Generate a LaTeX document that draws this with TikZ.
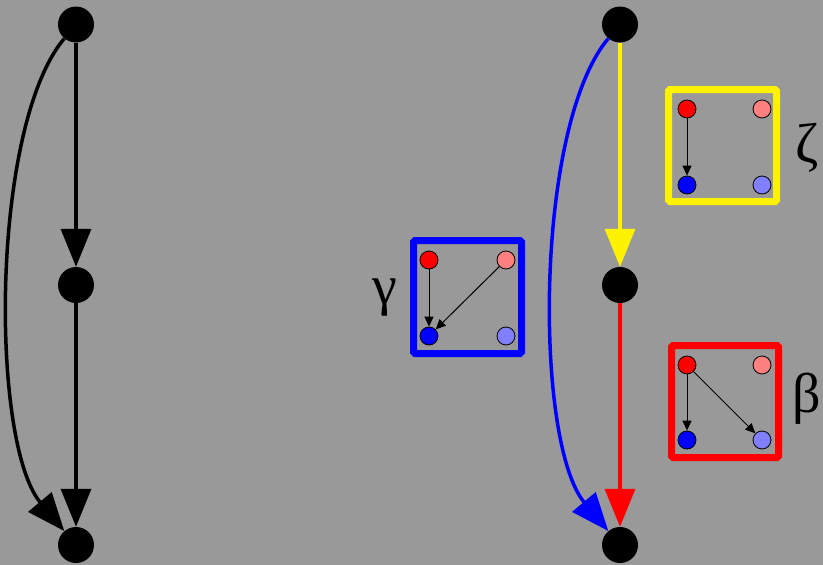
\documentclass[tikz,border=0pt]{standalone}
\usepackage{tikz}
\usepackage{fontspec}
\setmainfont{Liberation Serif}
\usetikzlibrary{arrows.meta}

\definecolor{bggray}{RGB}{153,153,153}
\definecolor{lightred}{RGB}{255,128,128}
\definecolor{lightblue}{RGB}{128,128,255}

\begin{document}
\begin{tikzpicture}[x=1pt, y=-1pt,
	dot/.style={circle, fill=black, inner sep=0pt, minimum size=36pt},
	pin/.style={circle, draw=black, line width=0.8pt, inner sep=0pt, minimum size=18pt},
	edge/.style={line width=3.5pt, -{Triangle[width=30pt, length=38pt]}},
	link/.style={line width=1pt, -{Triangle[width=9pt, length=10pt]}},
	panel/.style={line width=7pt, rounded corners=1.5pt},
	sym/.style={inner sep=0pt, font=\fontsize{56}{56}\selectfont}]
	\fill[bggray] (0, 0) rectangle (823, 565);
	\useasboundingbox (0, 0) rectangle (823, 565);

	\node[dot] (t1) at (76, 24.5) {};
	\node[dot] (m1) at (76, 285) {};
	\node[dot] (b1) at (76, 545) {};
	\node[dot] (t2) at (620, 24.5) {};
	\node[dot] (m2) at (620, 285) {};
	\node[dot] (b2) at (620, 545) {};

	\draw[edge] (t1) -- (m1);
	\draw[edge] (m1) -- (b1);
	\draw[edge] (t1) to[out=-130, in=130, looseness=0.6] (b1);

	\draw[edge, yellow] (t2) -- (m2);
	\draw[edge, red] (m2) -- (b2);
	\draw[edge, blue] (t2) to[out=-130, in=130, looseness=0.6] (b2);

	\draw[panel, yellow] (668.5, 89.5) rectangle (776.5, 201.5);
	\draw[panel, blue] (413.5, 240.5) rectangle (521.5, 353.5);
	\draw[panel, red] (671.5, 345.5) rectangle (778.5, 457.5);

	\node[pin, fill=red] (zr) at (687, 109) {};
	\node[pin, fill=lightred] (zp) at (762, 109) {};
	\node[pin, fill=blue] (zb) at (687, 185) {};
	\node[pin, fill=lightblue] (zl) at (762, 185) {};

	\node[pin, fill=red] (gr) at (429, 260) {};
	\node[pin, fill=lightred] (gp) at (506, 260) {};
	\node[pin, fill=blue] (gb) at (429, 336) {};
	\node[pin, fill=lightblue] (gl) at (506, 336) {};

	\node[pin, fill=red] (br) at (687, 365) {};
	\node[pin, fill=lightred] (bp) at (762, 365) {};
	\node[pin, fill=blue] (bb) at (687, 440) {};
	\node[pin, fill=lightblue] (bl) at (762, 440) {};

	\draw[link] (zr) -- (zb);
	\draw[link] (gr) -- (gb);
	\draw[link] (gp) -- (gb);
	\draw[link] (br) -- (bb);
	\draw[link] (br) -- (bl);

	\node[sym] (zeta) at (807, 148) {ζ};
	\node[sym] (gamma) at (385, 298) {γ};
	\node[sym] (beta) at (807, 399) {β};

\end{tikzpicture}
\end{document}
